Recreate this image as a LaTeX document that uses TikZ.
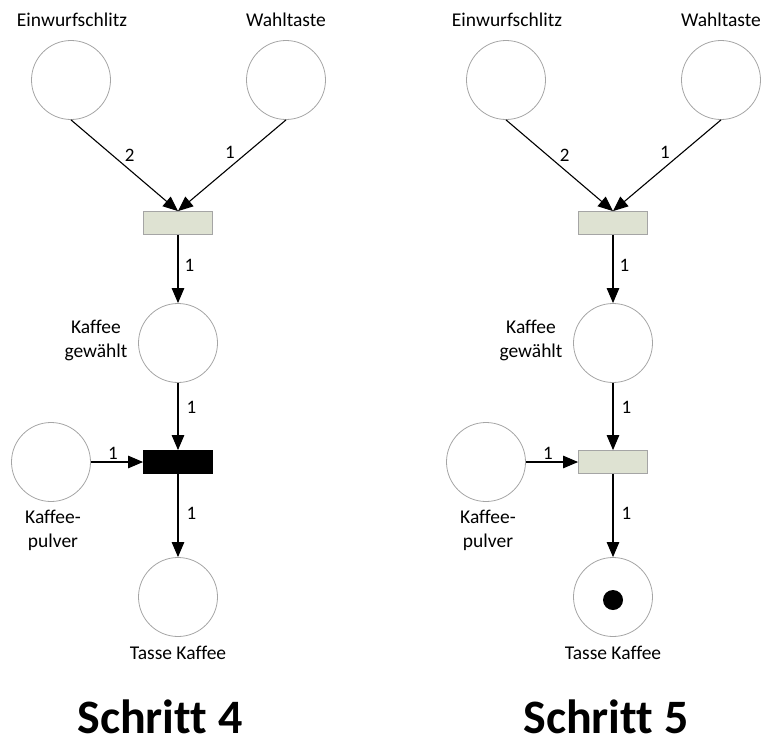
\documentclass[tikz,border=0pt]{standalone}
\usepackage{fontspec}
\setmainfont{Carlito}[Ligatures=NoCommon]
\usetikzlibrary{arrows.meta}

\definecolor{placeline}{RGB}{165,165,165}
\definecolor{transfill}{RGB}{222,226,210}

\tikzset{
  place/.style={circle, draw=placeline, line width=0.8pt, minimum size=79pt, inner sep=0pt},
  trans/.style={rectangle, draw=placeline, line width=0.8pt, fill=transfill, minimum width=69pt, minimum height=23pt, inner sep=0pt},
  fired/.style={trans, draw=black, fill=black},
  arc/.style={-{Triangle[length=15pt,width=12.5pt]}, line width=1.1pt},
  weight/.style={font=\fontsize{19}{22}\selectfont, inner sep=2pt},
  txt/.style={font=\fontsize{19.5}{24}\selectfont, align=center, inner sep=0pt},
  token/.style={circle, fill=black, minimum size=20pt, inner sep=0pt},
}

\begin{document}
\begin{tikzpicture}[x=1pt, y=-1pt]
  \useasboundingbox (0,0) rectangle (765,744);
  \foreach \s/\dx/\tstyle/\sx in {4/0/fired/160, 5/435/trans/171} {
    \begin{scope}[xshift=\dx pt]
      % places and transitions
      \node[place] (E\s)  at (71,80)    {};
      \node[place] (W\s)  at (286,80)   {};
      \node[trans] (T1\s) at (178,223)  {};
      \node[place] (KG\s) at (178,343)  {};
      \node[place] (KP\s) at (51,462)   {};
      \node[\tstyle] (T2\s) at (178,462) {};
      \node[place] (TK\s) at (178,597)  {};
      \ifnum\s=5 \node[token] (M\s) at (178,600) {}; \fi
      % labels
      \node[txt] (Elab\s)  at (72,20)   {Einwurfschlitz};
      \node[txt] (Wlab\s)  at (286,20)  {Wahltaste};
      \node[txt] (KGlab\s) at (96,340)  {Kaffee\\gewählt};
      \node[txt] (KPlab\s) at (53,530)  {Kaffee-\\pulver};
      \node[txt] (TKlab\s) at (178,653) {Tasse Kaffee};
      \node[font=\bfseries\fontsize{48}{56}\selectfont, anchor=base, inner sep=0pt] (S\s) at (\sx,733) {Schritt \s};
      % arcs
      \draw[arc] (E\s.south) -- node[weight, pos=0.48, above right] (a\s) {2} (T1\s.north);
      \draw[arc] (W\s.south) -- node[weight, pos=0.45, above left] (b\s) {1} (T1\s.north);
      \draw[arc] (T1\s) -- node[weight, pos=0.45, right=4pt] (c\s) {1} (KG\s);
      \draw[arc] (KG\s) -- node[weight, pos=0.37, right=6pt] (d\s) {1} (T2\s);
      \draw[arc] (KP\s) -- node[weight, pos=0.42, above] (e\s) {1} (T2\s);
      \draw[arc] (T2\s) -- node[weight, pos=0.47, right=6pt] (f\s) {1} (TK\s);
    \end{scope}
  }
\end{tikzpicture}
\end{document}
